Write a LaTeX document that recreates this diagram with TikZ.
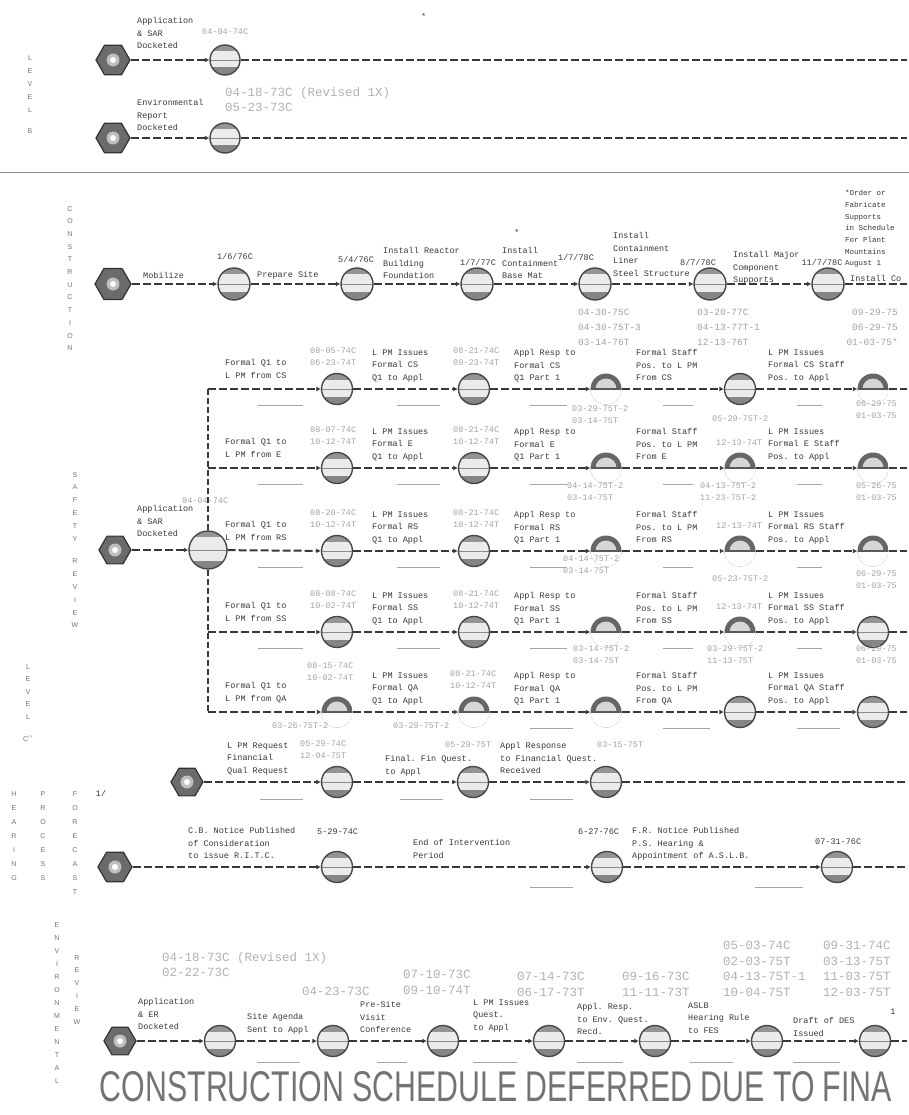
\documentclass[tikz,border=0pt]{standalone}
\usepackage{fontspec}
\setmainfont{Liberation Sans}
\setmonofont{Liberation Mono}
\usetikzlibrary{shapes.geometric,arrows.meta}
\tikzset{
 lbl/.style={font=\ttfamily\fontsize{8.5}{12.5}\selectfont, text=black!78, align=left, inner sep=0pt, anchor=north west},
 lbls/.style={font=\ttfamily\fontsize{7.5}{11.7}\selectfont, text=black!78, align=left, inner sep=0pt, anchor=north west},
 dte/.style={font=\ttfamily\fontsize{8.5}{12.5}\selectfont, text=black!36, align=left, inner sep=0pt, anchor=north west},
 dtem/.style={font=\ttfamily\fontsize{9.5}{15}\selectfont, text=black!36, align=left, inner sep=0pt, anchor=north west},
 dtel/.style={font=\ttfamily\fontsize{12.5}{15.5}\selectfont, text=black!30, align=left, inner sep=0pt, anchor=north west},
 vlet/.style={font=\fontsize{7}{#1}\selectfont, text=black!55, align=center, inner sep=0pt, anchor=north},
 vlet/.default=13pt,
 hexn/.style={regular polygon, regular polygon sides=6, minimum size=#1, inner sep=0pt, draw=black!80, line width=1.2pt, fill=black!58,
   path picture={\fill[black!25] (path picture bounding box.center) circle (6.5pt); \fill[white] (path picture bounding box.center) circle (3pt);}},
 hexn/.default=34pt,
 evt/.style={circle, minimum size=#1, inner sep=0pt, draw=black!72, line width=1.4pt, fill=black!8,
   path picture={
     \fill[black!42] (path picture bounding box.north west) rectangle ([yshift=-6pt]path picture bounding box.north east);
     \fill[black!48] (path picture bounding box.south west) rectangle ([yshift=8pt]path picture bounding box.south east);
     \draw[black!45, line width=0.6pt] (path picture bounding box.west) -- (path picture bounding box.east);}},
 evt/.default=31pt,
 dome/.style={circle, minimum size=#1, inner sep=0pt,
   path picture={
     \fill[black!60] (path picture bounding box.center) circle (16pt);
     \fill[black!16] (path picture bounding box.center) circle (10.5pt);
     \fill[white] (path picture bounding box.west) rectangle (path picture bounding box.south east);
     \draw[black!65, line width=1.6pt] (path picture bounding box.west) -- (path picture bounding box.east);}},
 dome/.default=31pt,
 link/.style={draw=black!78, line width=2pt, dash pattern=on 8pt off 3pt, -{Latex[length=4.5pt,width=5pt]}},
 linkn/.style={link, arrows=-},
 vln/.style={draw=black!78, line width=2.4pt, dash pattern=on 6pt off 3pt},
 blank/.style={draw=black!35, line width=0.6pt},
 sepl/.style={draw=black!45, line width=0.7pt},
}
\begin{document}
\begin{tikzpicture}[x=1pt,y=-1pt]
\useasboundingbox[fill=white] (0,0) rectangle (909,1115);

% ---------------- LEVEL B ----------------
\node[vlet] (vb) at (30,55) {L\\E\\V\\E\\L\\[8pt]B};
\node[lbl] (mark) at (421,13) {*};
\node[hexn] (bh1) at (113,60) {};
\node[evt=30pt] (bc1) at (225,60) {};
\coordinate (be1) at (907,60);
\draw[link] (bh1) -- (bc1);
\draw[linkn] (bc1) -- (be1);
\node[lbl] (bl1) at (137,17.5) {Application\\\& SAR\\Docketed};
\node[dte, anchor=west] (bd1) at (202,32) {04-04-74C};

\node[hexn] (bh2) at (113,138) {};
\node[evt=30pt] (bc2) at (225,138) {};
\coordinate (be2) at (907,138);
\draw[link] (bh2) -- (bc2);
\draw[linkn] (bc2) -- (be2);
\node[lbl] (bl2) at (137,99.5) {Environmental\\Report\\Docketed};
\node[dtel] (bd2) at (225,87) {04-18-73C (Revised 1X)\\05-23-73C};

\coordinate (sepa) at (0,172);
\coordinate (sepb) at (909,172);
\draw[sepl] (sepa) -- (sepb);

% ---------------- CONSTRUCTION ----------------
\node[vlet=12.7pt] (vcon) at (70,206) {C\\O\\N\\S\\T\\R\\U\\C\\T\\I\\O\\N};
\node[hexn=36pt] (ch) at (113,284) {};
\node[evt=32pt] (c1) at (234,284) {};
\node[evt=32pt] (c2) at (357,284) {};
\node[evt=32pt] (c3) at (477,284) {};
\node[evt=32pt] (c4) at (595,284) {};
\node[evt=32pt] (c5) at (710,284) {};
\node[evt=32pt] (c6) at (828,284) {};
\coordinate (ce) at (907,284);
\draw[link] (ch) -- (c1);
\draw[link] (c1) -- (c2);
\draw[link] (c2) -- (c3);
\draw[link] (c3) -- (c4);
\draw[link] (c4) -- (c5);
\draw[link] (c5) -- (c6);
\draw[linkn] (c6) -- (ce);
\node[lbl, anchor=west] (cl0) at (143,275) {Mobilize};
\node[lbl, anchor=center] (cd1) at (235,256) {1/6/76C};
\node[lbl, anchor=west] (cl1) at (257,275) {Prepare Site};
\node[lbl, anchor=center] (cd2) at (356,259) {5/4/76C};
\node[lbl] (cl2) at (383,247.5) {Install Reactor\\Building\\Foundation};
\node[lbl, anchor=center] (cd3) at (478,262) {1/7/77C};
\node[lbl] (cl3) at (502,247.5) {Install\\Containment\\Base Mat};
\node[lbl, anchor=center] (cstar) at (517,232) {*};
\node[lbl, anchor=center] (cd4) at (576,257) {1/7/78C};
\node[lbl] (cl4) at (613,232.5) {Install\\Containment\\Liner\\Steel Structure};
\node[lbl, anchor=center] (cd5) at (698,262) {8/7/78C};
\node[lbl] (cl5) at (733,251.5) {Install Major\\Component\\Supports};
\node[lbl, anchor=center] (cd6) at (822,262) {11/7/78C};
\node[lbls] (cnote) at (845,190) {*Order or\\Fabricate\\Supports\\in Schedule\\For Plant\\Mountains\\August 1};
\node[lbl, anchor=west] (cl6) at (850,278) {Install Co};
\node[dtem] (cdd4) at (578,309) {04-30-75C\\04-30-75T-3\\03-14-76T};
\node[dtem] (cdd5) at (697,309) {03-20-77C\\04-13-77T-1\\12-13-76T};
\node[dtem, anchor=north east, align=right] (cdd6) at (898,309) {09-29-75\\06-29-75\\01-03-75*};

% ---------------- SAFETY REVIEW ----------------
\node[vlet=12.8pt] (vsaf) at (75,472) {S\\A\\F\\E\\T\\Y\\[10pt]R\\E\\V\\I\\E\\W};
\node[vlet=12.5pt] (vlc) at (28,664) {L\\E\\V\\E\\L\\[10pt]C$''$};
\node[hexn=32pt] (sh) at (115,550) {};
\node[evt=38pt] (sc) at (208,550) {};
\draw[link] (sh) -- (sc);
\node[lbl] (sl0) at (137,505.5) {Application\\\& SAR\\Docketed};
\node[dte, anchor=west] (sd0) at (182,501) {04-04-74C};

\coordinate (sv1) at (208,389);
\coordinate (sv2) at (208,468);
\coordinate (sv4) at (208,632);
\coordinate (sv5) at (208,712);
\draw[vln] (sc.north) -- (sv1);
\draw[vln] (sc.south) -- (sv5);

% row nodes
\node[evt] (r1x1) at (337,389) {};
\node[evt] (r1x2) at (474,389) {};
\node[dome] (r1x3) at (606,389) {};
\node[evt] (r1x4) at (740,389) {};
\node[dome] (r1x5) at (873,389) {};
\node[evt] (r2x1) at (337,468) {};
\node[evt] (r2x2) at (474,468) {};
\node[dome] (r2x3) at (606,468) {};
\node[dome] (r2x4) at (740,468) {};
\node[dome] (r2x5) at (873,468) {};
\node[evt] (r3x1) at (337,551) {};
\node[evt] (r3x2) at (474,551) {};
\node[dome] (r3x3) at (606,551) {};
\node[dome] (r3x4) at (740,551) {};
\node[dome] (r3x5) at (873,551) {};
\node[evt] (r4x1) at (337,632) {};
\node[evt] (r4x2) at (474,632) {};
\node[dome] (r4x3) at (606,632) {};
\node[dome] (r4x4) at (740,632) {};
\node[evt] (r4x5) at (873,632) {};
\node[dome] (r5x1) at (337,712) {};
\node[dome] (r5x2) at (474,712) {};
\node[dome] (r5x3) at (606,712) {};
\node[evt] (r5x4) at (740,712) {};
\node[evt] (r5x5) at (873,712) {};

\draw[link] (sv1) -- (r1x1);
\draw[link] (sv2) -- (r2x1);
\draw[link] (sc) -- (r3x1);
\draw[link] (sv4) -- (r4x1);
\draw[link] (sv5) -- (r5x1);

\foreach \ri/\yy/\br in {1/389/CS,2/468/E,3/551/RS,4/632/SS,5/712/QA}{
  \coordinate (r\ri e) at (907,\yy);
  \draw[link] (r\ri x1) -- (r\ri x2);
  \draw[link] (r\ri x2) -- (r\ri x3);
  \draw[link] (r\ri x3) -- (r\ri x4);
  \draw[link] (r\ri x4) -- (r\ri x5);
  \draw[linkn] (r\ri x5) -- (r\ri e);
  \node[lbl] (r\ri l1) at (225,\yy-29.5) {Formal Q1 to\\L PM from \br};
  \node[lbl] (r\ri l2) at (372,\yy-39.5) {L PM Issues\\Formal \br\\Q1 to Appl};
  \node[lbl] (r\ri l3) at (514,\yy-39.5) {Appl Resp to\\Formal \br\\Q1 Part 1};
  \node[lbl] (r\ri l4) at (636,\yy-39.5) {Formal Staff\\Pos. to L PM\\From \br};
  \node[lbl] (r\ri l5) at (768,\yy-39.5) {L PM Issues\\Formal \br\ Staff\\Pos. to Appl};
}
% blanks under rows 1-4
\foreach \yy in {405,484,567,648}{
  \coordinate (bka) at (258,\yy); \coordinate (bkb) at (303,\yy); \draw[blank] (bka) -- (bkb);
  \coordinate (bkc) at (397,\yy); \coordinate (bkd) at (440,\yy); \draw[blank] (bkc) -- (bkd);
  \coordinate (bke) at (530,\yy); \coordinate (bkf) at (567,\yy); \draw[blank] (bke) -- (bkf);
  \coordinate (bkg) at (663,\yy); \coordinate (bkh) at (693,\yy); \draw[blank] (bkg) -- (bkh);
  \coordinate (bki) at (797,\yy); \coordinate (bkj) at (822,\yy); \draw[blank] (bki) -- (bkj);
}
\foreach \xa/\xb in {530/573,663/710,797/840}{
  \coordinate (bkk) at (\xa,728); \coordinate (bkl) at (\xb,728); \draw[blank] (bkk) -- (bkl);
}

% row dates above
\node[dte] (d11) at (310,347.5) {08-05-74C\\06-23-74T};
\node[dte] (d12) at (453,347.5) {08-21-74C\\09-23-74T};
\node[dte] (d21) at (310,426.5) {08-07-74C\\10-12-74T};
\node[dte] (d22) at (453,426.5) {08-21-74C\\10-12-74T};
\node[dte, anchor=west] (d24) at (716,443) {12-13-74T};
\node[dte] (d31) at (310,509.5) {08-20-74C\\10-12-74T};
\node[dte] (d32) at (453,509.5) {08-21-74C\\10-12-74T};
\node[dte, anchor=west] (d34) at (716,526) {12-13-74T};
\node[dte] (d41) at (310,590.5) {08-08-74C\\10-02-74T};
\node[dte] (d42) at (453,590.5) {08-21-74C\\10-12-74T};
\node[dte, anchor=west] (d44) at (716,607) {12-13-74T};
\node[dte] (d51) at (307,662.5) {08-15-74C\\10-02-74T};
\node[dte] (d52) at (450,670.5) {08-21-74C\\10-12-74T};
% row dates below
\node[dte] (e13) at (572,405.5) {03-29-75T-2\\03-14-75T};
\node[dte] (e14) at (712,415.5) {05-29-75T-2};
\node[dte, anchor=north east, align=right] (e15) at (897,400.5) {06-29-75\\01-03-75};
\node[dte] (e23) at (567,482.5) {04-14-75T-2\\03-14-75T};
\node[dte] (e24) at (700,482.5) {04-13-75T-2\\11-23-75T-2};
\node[dte, anchor=north east, align=right] (e25) at (897,482.5) {05-26-75\\01-03-75};
\node[dte] (e33) at (563,555.5) {04-14-75T-2\\03-14-75T};
\node[dte] (e34) at (712,575.5) {05-23-75T-2};
\node[dte, anchor=north east, align=right] (e35) at (897,570.5) {06-29-75\\01-03-75};
\node[dte] (e43) at (573,645.5) {03-14-75T-2\\03-14-75T};
\node[dte] (e44) at (707,645.5) {03-29-75T-2\\11-13-75T};
\node[dte, anchor=north east, align=right] (e45) at (897,645.5) {06-29-75\\01-03-75};
\node[dte] (e51) at (272,722.5) {03-26-75T-2};
\node[dte] (e52) at (393,722.5) {03-29-75T-2};

% financial row
\node[hexn=32pt] (fh) at (187,782) {};
\node[evt] (f1) at (337,782) {};
\node[evt] (f2) at (473,782) {};
\node[evt] (f3) at (606,782) {};
\coordinate (fe) at (907,782);
\draw[link] (fh) -- (f1);
\draw[link] (f1) -- (f2);
\draw[link] (f2) -- (f3);
\draw[linkn] (f3) -- (fe);
\node[lbl] (fl1) at (227,742.5) {L PM Request\\Financial\\Qual Request};
\node[dte] (fd1) at (300,740.5) {05-29-74C\\12-04-75T};
\node[lbl] (fl2) at (385,755.5) {Final. Fin Quest.\\to Appl};
\node[dte, anchor=west] (fd2) at (445,745) {05-29-75T};
\node[lbl] (fl3) at (500,742.5) {Appl Response\\to Financial Quest.\\Received};
\node[dte, anchor=west] (fd3) at (597,745) {03-15-75T};
\foreach \xa/\xb in {260/303,400/443,530/573}{
  \coordinate (fka) at (\xa,799); \coordinate (fkb) at (\xb,799); \draw[blank] (fka) -- (fkb);
}

% ---------------- HEARING PROCESS FORECAST ----------------
\node[vlet=14pt] (vh) at (14,791) {H\\E\\A\\R\\I\\N\\G};
\node[vlet=14pt] (vp) at (43,791) {P\\R\\O\\C\\E\\S\\S};
\node[vlet=14pt] (vf) at (75,791) {F\\O\\R\\E\\C\\A\\S\\T};
\node[lbl, anchor=center] (foot) at (101,793) {1/};
\node[hexn] (hh) at (115,867) {};
\node[evt] (h1) at (337,867) {};
\node[evt] (h2) at (607,867) {};
\node[evt] (h3) at (837,867) {};
\coordinate (he) at (907,867);
\draw[link] (hh) -- (h1);
\draw[link] (h1) -- (h2);
\draw[link] (h2) -- (h3);
\draw[linkn] (h3) -- (he);
\node[lbl] (hl1) at (188,827.5) {C.B. Notice Published\\of Consideration\\to issue R.I.T.C.};
\node[lbl, anchor=west] (hd1) at (317,832) {5-29-74C};
\node[lbl] (hl2) at (413,839.5) {End of Intervention\\Period};
\node[lbl, anchor=west] (hd2) at (578,832) {6-27-76C};
\node[lbl] (hl3) at (632,827.5) {F.R. Notice Published\\P.S. Hearing \&\\Appointment of A.S.L.B.};
\node[lbl, anchor=west] (hd3) at (815,842) {07-31-76C};
\foreach \xa/\xb in {530/573,755/803}{
  \coordinate (hka) at (\xa,887); \coordinate (hkb) at (\xb,887); \draw[blank] (hka) -- (hkb);
}

% ---------------- ENVIRONMENTAL REVIEW ----------------
\node[vlet=13pt] (venv) at (57,922) {E\\N\\V\\I\\R\\O\\N\\M\\E\\N\\T\\A\\L};
\node[vlet=12.8pt] (vrev) at (77,955) {R\\E\\V\\I\\E\\W};
\node[hexn=32pt] (eh) at (120,1041) {};
\node[evt] (e1) at (220,1041) {};
\node[evt] (e2) at (333,1041) {};
\node[evt] (e3) at (443,1041) {};
\node[evt] (e4) at (549,1041) {};
\node[evt] (e5) at (655,1041) {};
\node[evt] (e6) at (767,1041) {};
\node[evt] (e7) at (875,1041) {};
\coordinate (ee) at (907,1041);
\draw[link] (eh) -- (e1);
\draw[link] (e1) -- (e2);
\draw[link] (e2) -- (e3);
\draw[link] (e3) -- (e4);
\draw[link] (e4) -- (e5);
\draw[link] (e5) -- (e6);
\draw[link] (e6) -- (e7);
\draw[linkn] (e7) -- (ee);
\node[lbl] (el1) at (138,998.5) {Application\\\& ER\\Docketed};
\node[lbl] (el2) at (247,1013.5) {Site Agenda\\Sent to Appl};
\node[lbl] (el3) at (360,1001.5) {Pre-Site\\Visit\\Conference};
\node[lbl] (el4) at (473,999.5) {L PM Issues\\Quest.\\to Appl};
\node[lbl] (el5) at (577,1003.5) {Appl. Resp.\\to Env. Quest.\\Recd.};
\node[lbl] (el6) at (688,1002.5) {ASLB\\Hearing Rule\\to FES};
\node[lbl] (el7) at (793,1017.5) {Draft of DES\\Issued};
\node[lbl, anchor=center] (eone) at (893,1012) {1};
\node[dtel] (ed1) at (162,952) {04-18-73C (Revised 1X)\\02-22-73C};
\node[dtel] (ed2) at (302,987) {04-23-73C};
\node[dtel] (ed3) at (403,970) {07-10-73C\\09-10-74T};
\node[dtel] (ed4) at (517,972) {07-14-73C\\06-17-73T};
\node[dtel] (ed5) at (622,972) {09-16-73C\\11-11-73T};
\node[dtel] (ed6) at (723,941) {05-03-74C\\02-03-75T\\04-13-75T-1\\10-04-75T};
\node[dtel] (ed7) at (823,941) {09-31-74C\\03-13-75T\\11-03-75T\\12-03-75T};
\foreach \xa/\xb in {257/300,377/407,473/517,577/623,690/733,793/840}{
  \coordinate (eka) at (\xa,1062); \coordinate (ekb) at (\xb,1062); \draw[blank] (eka) -- (ekb);
}

% ---------------- STAMP ----------------
\node[text=black!55, inner sep=0pt] (title) at (496,1087) {\resizebox{792pt}{30pt}{CONSTRUCTION SCHEDULE DEFERRED DUE TO FINA}};
\end{tikzpicture}
\end{document}
